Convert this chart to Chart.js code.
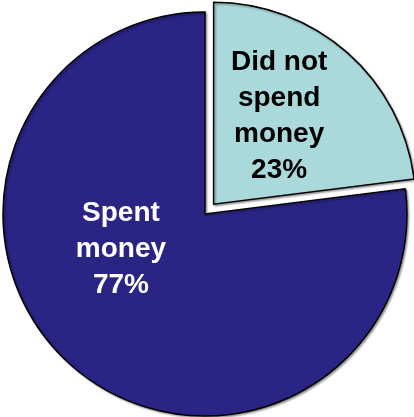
<!DOCTYPE html>
<html>
<head>
<meta charset="utf-8">
<script src="https://cdn.jsdelivr.net/npm/chart.js@4"></script>
<style>
  html, body { margin: 0; padding: 0; background: #fff; }
  #wrap { width: 414px; height: 417px; position: relative; }
</style>
</head>
<body>
<div id="wrap"><canvas id="pie"></canvas></div>
<script>
// === 饼图: 花钱 / 没花钱 ===

const categories = ['Did not spend money', 'Spent money'];
const shares = [23, 77];
const labelLines = [
  ['Did not', 'spend', 'money', '23%'],
  ['Spent', 'money', '77%'],
];

const sliceColors = ['#AAD9DB', '#2A2484'];
const textColors = ['#000000', '#FFFFFF'];
// label centre, as a fraction of the radius from the (offset) slice centre
const labelAt = [[0.324, -0.437], [-0.416, 0.173]];

// Chart.js v4 arc draws offset/4 (+ a small fix for narrow slices)
function arcShift(arc) {
  const off = (arc.options.offset || 0) / 4;
  const fix = 1 - Math.sin(Math.min(Math.PI, arc.circumference || 0));
  return off * (1 + fix);
}

const shadowPlugin = {
  id: 'shadow',
  beforeDatasetsDraw(chart) {
    const ctx = chart.ctx;
    ctx.save();
    ctx.shadowColor = 'rgba(0,0,0,0.35)';
    ctx.shadowOffsetX = 1.5;
    ctx.shadowOffsetY = 1.5;
    ctx.shadowBlur = 2;
  },
  afterDatasetsDraw(chart) {
    chart.ctx.restore();
  },
};

const labelPlugin = {
  id: 'sliceLabels',
  afterDraw(chart) {
    const ctx = chart.ctx;
    const arcs = chart.getDatasetMeta(0).data;
    ctx.save();
    ctx.font = 'bold 28px "Liberation Sans", Arial, sans-serif';
    ctx.textAlign = 'center';
    ctx.textBaseline = 'middle';
    arcs.forEach((arc, i) => {
      const p = arc.getProps(['x', 'y', 'startAngle', 'endAngle', 'outerRadius']);
      const mid = (p.startAngle + p.endAngle) / 2;
      const off = arcShift(arc);
      const cx = p.x + Math.cos(mid) * off + labelAt[i][0] * p.outerRadius;
      const cy = p.y + Math.sin(mid) * off + labelAt[i][1] * p.outerRadius;
      const lines = labelLines[i];
      const lh = 36;
      ctx.fillStyle = textColors[i];
      lines.forEach((t, k) => {
        ctx.fillText(t, cx, cy + (k - (lines.length - 1) / 2) * lh);
      });
    });
    ctx.restore();
  },
};

new Chart(document.getElementById('pie'), {
  type: 'pie',
  data: {
    labels: categories,
    datasets: [{
      data: shares,
      backgroundColor: sliceColors,
      borderColor: '#000000',
      borderWidth: 1.5,
      borderJoinStyle: 'miter',
      offset: [52, 0],
    }],
  },
  options: {
    responsive: true,
    maintainAspectRatio: false,
    animation: false,
    radius: 202,
    layout: { padding: { left: 0, right: 4, top: 11, bottom: 0 } },
    plugins: {
      legend: { display: false },
      tooltip: { enabled: false },
    },
  },
  plugins: [shadowPlugin, labelPlugin],
});
</script>
</body>
</html>
